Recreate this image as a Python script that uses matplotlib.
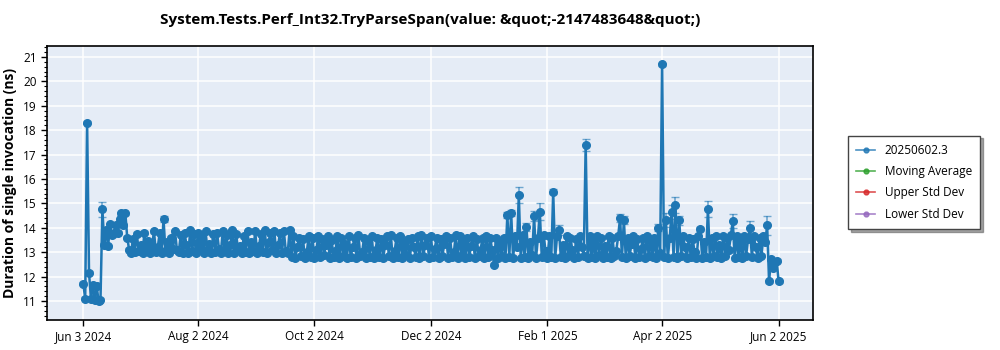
import numpy as np
import pandas as pd
import matplotlib
matplotlib.use("Agg")
import matplotlib.pyplot as plt
import matplotlib.dates as mdates
from matplotlib.ticker import AutoMinorLocator

plt.rcParams['font.family'] = ['Open Sans', 'DejaVu Sans']

TITLE = "System.Tests.Perf_Int32.TryParseSpan(value: &quot;-2147483648&quot;)"
SERIES = "20250602.3"
START = "2024-06-03"

# one result per day, grouped by month
jun_24 = [11.7, 11.1, 18.3, 12.15, 11.1, 11.65, 11.05, 11.6, 11.0, 11.05, 14.75, 13.3, 13.9, 13.25,
          14.15, 13.7, 13.8, 14.1, 13.8, 14.35, 14.6, 14.1, 14.6, 13.6, 13.1, 12.95, 13.55, 13.0]
jul_24 = [13.75, 13.05, 13.3, 12.95, 13.8, 13.1, 13.45, 12.95, 13.25, 13.85, 13.0, 13.2, 13.8, 12.95,
          14.35, 13.05, 13.4, 12.95, 13.6, 13.15, 13.85, 13.1, 13.0, 13.7, 12.95, 13.8, 13.3, 12.95,
          13.9, 13.05, 13.75]
aug_24 = [12.95, 13.8, 13.2, 13.7, 12.95, 13.85, 13.1, 13.35, 12.95, 13.75, 13.0, 13.8, 13.15, 12.95,
          13.85, 13.05, 13.7, 12.95, 13.3, 13.9, 12.95, 13.75, 13.1, 13.25, 12.95, 13.65, 13.0, 13.85,
          12.95, 13.4, 13.05]
sep_24 = [13.85, 12.95, 13.25, 13.75, 13.0, 13.9, 12.95, 13.4, 13.8, 13.1, 13.85, 12.95, 13.3, 13.8,
          12.95, 13.85, 13.05, 12.95, 13.9, 12.8, 13.65, 12.75, 13.2, 13.6, 12.85, 13.55, 12.75, 13.0,
          13.65, 12.8]
oct_24 = [13.6, 12.75, 13.1, 13.65, 12.8, 13.55, 12.9, 13.3, 13.65, 12.75, 13.5, 12.8, 13.05, 13.65,
          12.75, 13.6, 12.85, 13.35, 12.75, 13.65, 12.8, 13.2, 13.6, 12.75, 13.7, 12.85, 13.0, 13.6,
          12.75, 13.45, 12.8]
nov_24 = [13.65, 12.75, 13.1, 13.6, 12.8, 13.55, 12.75, 13.3, 13.65, 12.85, 13.7, 12.75, 13.05, 13.6,
          12.8, 13.65, 12.75, 13.4, 12.9, 13.55, 12.75, 13.6, 13.2, 12.8, 13.65, 12.75, 13.7, 12.85,
          13.3, 13.6]
dec_24 = [12.75, 13.65, 12.8, 13.15, 13.6, 12.75, 13.55, 12.85, 13.35, 13.65, 12.75, 13.6, 12.8, 13.0,
          13.7, 12.75, 13.65, 12.9, 13.4, 12.75, 13.6, 12.8, 13.25, 13.65, 12.75, 13.55, 12.85, 13.1,
          13.6, 12.75, 13.65]
jan_25 = [12.8, 13.6, 13.1, 12.48, 13.6, 12.75, 13.35, 12.85, 13.6, 12.75, 14.52, 12.8, 14.6, 12.75,
          13.65, 13.2, 15.34, 12.75, 13.7, 12.8, 14.03, 12.75, 13.4, 12.9, 14.48, 12.75, 13.6, 14.65,
          12.8, 13.7, 13.05]
feb_25 = [12.75, 13.65, 12.8, 15.47, 12.75, 13.65, 13.9, 12.8, 13.3, 12.75, 13.65, 12.85, 13.6, 13.1,
          12.75, 13.55, 12.8, 13.65, 13.2, 12.85, 17.4, 12.75, 13.65, 12.8, 13.4, 12.75, 13.65, 12.9]
mar_25 = [13.6, 12.75, 13.25, 12.8, 13.65, 12.75, 13.6, 12.85, 13.05, 13.65, 14.4, 12.8, 14.32, 12.75,
          13.6, 12.85, 13.35, 13.65, 12.75, 13.55, 12.8, 13.15, 13.6, 12.75, 13.65, 12.85, 13.45, 12.8,
          13.6, 12.75, 14.0]
apr_25 = [12.95, 20.7, 12.8, 14.32, 12.75, 13.6, 14.65, 12.8, 14.93, 12.75, 14.3, 12.85, 13.65, 13.2,
          12.75, 13.6, 12.8, 13.55, 13.0, 12.75, 13.65, 13.95, 12.75, 13.4, 12.8, 14.77, 12.75, 13.6,
          12.85, 13.65]
may_25 = [12.8, 13.3, 12.75, 13.65, 12.85, 13.6, 13.1, 13.7, 14.28, 12.75, 13.65, 12.8, 13.45, 12.75,
          13.65, 12.85, 13.55, 14.0, 12.8, 13.65, 13.2, 12.75, 13.6, 12.85, 13.65, 13.4, 14.1, 11.8,
          12.7, 12.35, 12.6]
jun_25 = [12.65, 11.8]

# spread of the runs, wider on the outliers
base_err = 0.06
wide_err = {
    "2024-06-13": 0.3, "2024-07-15": 0.12,
    "2025-01-11": 0.12, "2025-01-13": 0.12, "2025-01-17": 0.33, "2025-01-21": 0.15,
    "2025-01-25": 0.2, "2025-01-28": 0.35, "2025-02-04": 0.1, "2025-02-07": 0.2,
    "2025-02-21": 0.25, "2025-03-11": 0.15, "2025-03-13": 0.15, "2025-03-31": 0.15,
    "2025-04-04": 0.3, "2025-04-07": 0.3, "2025-04-09": 0.33, "2025-04-11": 0.2,
    "2025-04-22": 0.1, "2025-04-26": 0.33, "2025-05-09": 0.28, "2025-05-18": 0.27,
    "2025-05-27": 0.38,
}

values = np.array(jun_24 + jul_24 + aug_24 + sep_24 + oct_24 + nov_24 + dec_24 +
                  jan_25 + feb_25 + mar_25 + apr_25 + may_25 + jun_25)
dates = pd.date_range(START, periods=len(values), freq="D")
errs = np.array([wide_err.get(d.strftime("%Y-%m-%d"), base_err) for d in dates])

tick_dates = pd.to_datetime(["2024-06-03", "2024-08-02", "2024-10-02", "2024-12-02",
                             "2025-02-01", "2025-04-02", "2025-06-02"])

fig = plt.figure(figsize=(10, 3.5), dpi=100)
ax = fig.add_axes([0.047, 0.0857, 0.766, 0.783])
ax.set_facecolor("#E5ECF6")

blue = "#1f77b4"
ax.errorbar(dates, values, yerr=errs, fmt="-o", color=blue, markersize=5.5, linewidth=1.8,
            ecolor=(0.12, 0.47, 0.71, 0.6), elinewidth=1.2, capsize=3, zorder=3)

h_main, = ax.plot([], [], "-o", color=blue, markersize=3.5, linewidth=1.2, alpha=0.8)
h_avg, = ax.plot([], [], "-o", color="#2ca02c", markersize=3.5, linewidth=1.2, alpha=0.8)
h_up, = ax.plot([], [], "-o", color="#d62728", markersize=3.5, linewidth=1.2, alpha=0.8)
h_lo, = ax.plot([], [], "-o", color="#9467bd", markersize=3.5, linewidth=1.2, alpha=0.8)

ax.set_xlim(pd.Timestamp("2024-05-15"), pd.Timestamp("2025-06-20"))
ax.set_ylim(10.22, 21.45)
ax.set_xticks(tick_dates)
ax.xaxis.set_major_formatter(mdates.DateFormatter("%b %-d %Y"))
ax.set_yticks(range(11, 22))
ax.yaxis.set_minor_locator(AutoMinorLocator(5))
ax.tick_params(axis="both", labelsize=8.5, direction="out", length=4, width=1)
ax.tick_params(axis="y", which="minor", length=2, width=0.8)

ax.grid(True, color="white", linewidth=1.1)
ax.set_axisbelow(True)
for sp in ax.spines.values():
    sp.set_color("black")
    sp.set_linewidth(1.2)

ax.set_title(TITLE, fontsize=11, fontweight="bold", pad=16)
ax.set_ylabel("Duration of single invocation (ns)", fontsize=10, fontweight="bold", labelpad=4)

leg = fig.legend([h_main, h_avg, h_up, h_lo],
                 [SERIES, "Moving Average", "Upper Std Dev", "Lower Std Dev"],
                 loc="center left", bbox_to_anchor=(0.848, 0.479), borderaxespad=0,
                 fontsize=8.5, frameon=True, fancybox=False, shadow=True, borderpad=0.7,
                 labelspacing=0.7, handlelength=1.6)
leg.get_frame().set_edgecolor("#444444")
leg.get_frame().set_linewidth(1.0)

fig.savefig("out.png", dpi=100)
